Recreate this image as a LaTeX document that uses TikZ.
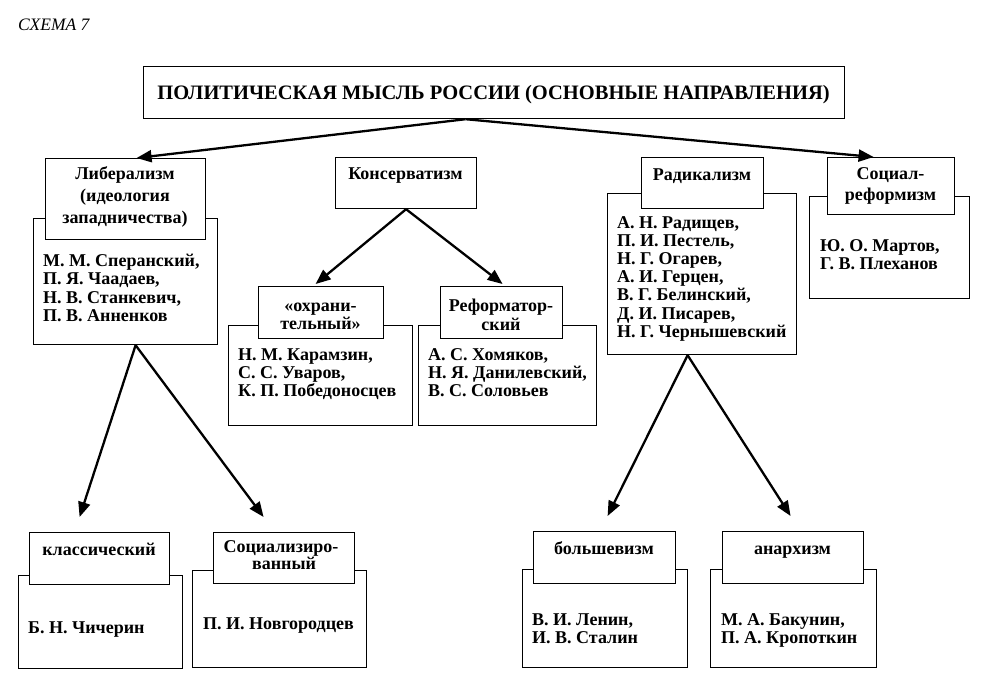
\documentclass[tikz,border=0pt]{standalone}
\usepackage{fontspec}
\setmainfont{Liberation Serif}
\usetikzlibrary{arrows.meta}
\tikzset{
  box/.style={draw, line width=1.2pt, fill=white, inner sep=0pt, anchor=north west},
  txt/.style={font=\bfseries\fontsize{18}{18}\selectfont, inner sep=0pt},
  ttl/.style={font=\bfseries\fontsize{20.5}{24}\selectfont, inner sep=0pt},
  arr/.style={line width=2.3pt, -{Triangle[length=15pt,width=12pt]}},
}
\newcommand\bx[5]{\node[box, minimum width={(#4-#2)*1pt}, minimum height={(#5-#3)*1pt}] (#1) at (#2,#3) {};}
\begin{document}
\begin{tikzpicture}[x=1pt,y=-1pt]
\useasboundingbox (0,0) rectangle (983,688);
% caption
\node[inner sep=0pt, anchor=base west, font=\itshape\fontsize{17.5}{20}\selectfont] (cap) at (18,30) {СХЕМА 7};
% title
\bx{title}{143}{66}{844}{118}
\node[ttl, anchor=base] (titlet) at (493.5,99) {ПОЛИТИЧЕСКАЯ МЫСЛЬ РОССИИ (ОСНОВНЫЕ НАПРАВЛЕНИЯ)};
% liberalism
\bx{libC}{33}{218}{217}{344}
\bx{libH}{45}{158}{205}{239}
\node[txt, anchor=base] (libh1) at (125,179) {Либерализм};
\node[txt, anchor=base] (libh2) at (125,201) {(идеология};
\node[txt, anchor=base] (libh3) at (125,223) {западничества)};
\node[txt, anchor=base west] (libc1) at (43,266) {М. М. Сперанский,};
\node[txt, anchor=base west] (libc2) at (43,284.5) {П. Я. Чаадаев,};
\node[txt, anchor=base west] (libc3) at (43,303) {Н. В. Станкевич,};
\node[txt, anchor=base west] (libc4) at (43,321.5) {П. В. Анненков};
% conservatism
\bx{konH}{335}{157}{476}{208}
\node[txt, anchor=base] (konh1) at (405.5,179) {Консерватизм};
\bx{ohrC}{228}{325}{412}{425}
\bx{ohrH}{258}{286}{383}{338}
\node[txt, anchor=base] (ohrh1) at (320.5,311) {«охрани-};
\node[txt, anchor=base] (ohrh2) at (320.5,329) {тельный»};
\node[txt, anchor=base west] (ohrc1) at (238,360) {Н. М. Карамзин,};
\node[txt, anchor=base west] (ohrc2) at (238,378) {С. С. Уваров,};
\node[txt, anchor=base west] (ohrc3) at (238,396) {К. П. Победоносцев};
\bx{refC}{418}{325}{596}{425}
\bx{refH}{440}{286}{562}{338}
\node[txt, anchor=base] (refh1) at (501,311) {Реформатор-};
\node[txt, anchor=base] (refh2) at (501,330) {ский};
\node[txt, anchor=base west] (refc1) at (428,360) {А. С. Хомяков,};
\node[txt, anchor=base west] (refc2) at (428,378) {Н. Я. Данилевский,};
\node[txt, anchor=base west] (refc3) at (428,396) {В. С. Соловьев};
% radicalism
\bx{radC}{607}{193}{796}{354}
\bx{radH}{641}{157}{763}{208}
\node[txt, anchor=base] (radh1) at (702,180) {Радикализм};
\node[txt, anchor=base west] (radc1) at (617,228) {А. Н. Радищев,};
\node[txt, anchor=base west] (radc2) at (617,246) {П. И. Пестель,};
\node[txt, anchor=base west] (radc3) at (617,264) {Н. Г. Огарев,};
\node[txt, anchor=base west] (radc4) at (617,282) {А. И. Герцен,};
\node[txt, anchor=base west] (radc5) at (617,300) {В. Г. Белинский,};
\node[txt, anchor=base west] (radc6) at (617,319) {Д. И. Писарев,};
\node[txt, anchor=base west] (radc7) at (617,337) {Н. Г. Чернышевский};
% social reformism
\bx{socC}{809}{196}{969}{298}
\bx{socH}{827}{157}{954}{214}
\node[txt, anchor=base] (soch1) at (890.5,179) {Социал-};
\node[txt, anchor=base] (soch2) at (890.5,200) {реформизм};
\node[txt, anchor=base west] (socc1) at (820,251) {Ю. О. Мартов,};
\node[txt, anchor=base west] (socc2) at (820,269) {Г. В. Плеханов};
% bottom left
\bx{klaC}{18}{575}{182}{668}
\bx{klaH}{29}{532}{169}{584}
\node[txt, anchor=base] (klah1) at (99,555) {классический};
\node[txt, anchor=base west] (klac1) at (28,633) {Б. Н. Чичерин};
\bx{sozC}{192}{570}{366}{667}
\bx{sozH}{213}{532}{354}{583}
\node[txt, anchor=base] (sozh1) at (281,552) {Социализиро-};
\node[txt, anchor=base] (sozh2) at (284,569) {ванный};
\node[txt, anchor=base west] (sozc1) at (203,629) {П. И. Новгородцев};
% bottom right
\bx{bolC}{522}{569}{687}{667}
\bx{bolH}{533}{531}{675}{583}
\node[txt, anchor=base] (bolh1) at (604,554) {большевизм};
\node[txt, anchor=base west] (bolc1) at (532,625) {В. И. Ленин,};
\node[txt, anchor=base west] (bolc2) at (532,643) {И. В. Сталин};
\bx{anaC}{710}{569}{876}{667}
\bx{anaH}{722}{531}{863}{583}
\node[txt, anchor=base] (anah1) at (792.5,554) {анархизм};
\node[txt, anchor=base west] (anac1) at (721,625) {М. А. Бакунин,};
\node[txt, anchor=base west] (anac2) at (721,643) {П. А. Кропоткин};
% arrows
\draw[arr] ([xshift=-28.5pt]title.south) -- ([xshift=11pt]libH.north);
\draw[arr] ([xshift=-28.5pt]title.south) -- ([xshift=-17.5pt]socH.north);
\draw[arr] (konH.south) -- ([xshift=-5.5pt,yshift=2pt]ohrH.north);
\draw[arr] (konH.south) -- ([xshift=1pt,yshift=2pt]refH.north);
\draw[arr] ([xshift=10pt]libC.south) -- ([xshift=-20pt,yshift=15pt]klaH.north);
\draw[arr] ([xshift=10pt]libC.south) -- ([xshift=-20.5pt,yshift=15pt]sozH.north);
\draw[arr] ([xshift=-14.5pt]radC.south) -- ([xshift=3pt,yshift=15pt]bolH.north);
\draw[arr] ([xshift=-14.5pt]radC.south) -- ([xshift=-2.5pt,yshift=15pt]anaH.north);
\end{tikzpicture}
\end{document}
